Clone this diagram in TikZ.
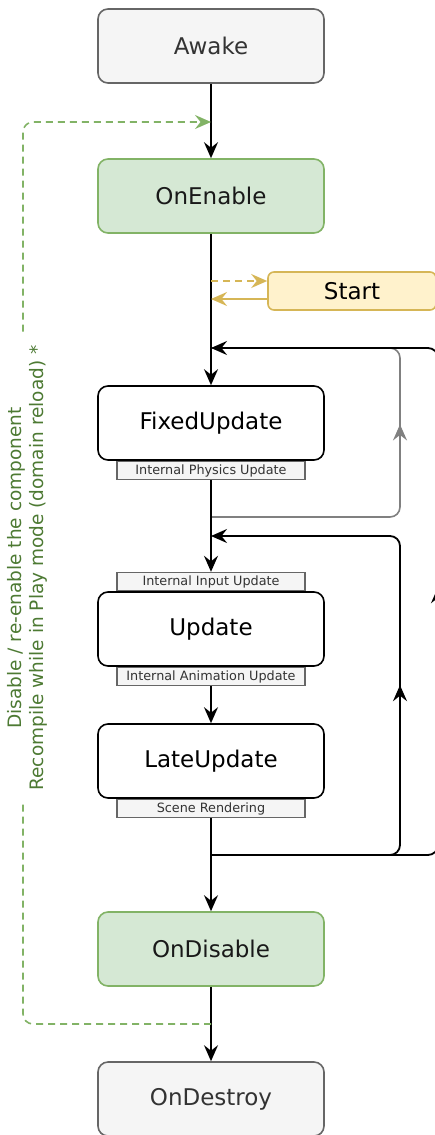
\documentclass[tikz,border=0pt]{standalone}
\usepackage{fontspec}
\setmainfont{DejaVu Sans}
\usetikzlibrary{positioning,arrows.meta,decorations.markings}

\definecolor{idlefill}{HTML}{F5F5F5}
\definecolor{idledraw}{HTML}{666666}
\definecolor{idletext}{HTML}{333333}
\definecolor{togglefill}{HTML}{D5E8D4}
\definecolor{toggledraw}{HTML}{82B366}
\definecolor{toggletext}{HTML}{4D7A33}
\definecolor{startfill}{HTML}{FFF2CC}
\definecolor{startdraw}{HTML}{D6B656}
\definecolor{physdraw}{HTML}{808080}

\begin{document}
\begin{tikzpicture}[x=1pt,y=-1pt,
    >={Stealth[length=16pt,width=14pt,inset=5.5pt]},
    phase/.style={draw,rounded corners=10pt,line width=1.6pt,minimum width=226pt,
      minimum height=74pt,inner sep=0pt,font=\fontsize{23}{27}\selectfont},
    idle/.style={phase,fill=idlefill,draw=idledraw,text=idletext},
    toggle/.style={phase,fill=togglefill,draw=toggledraw,text=black!90},
    frame/.style={phase,fill=white,draw=black},
    internal/.style={draw=idledraw,fill=idlefill,line width=1.4pt,minimum width=188pt,
      minimum height=18pt,inner sep=0pt,text=idletext,font=\fontsize{12.8}{14}\selectfont},
    flow/.style={->,line width=1.8pt},
    midarrow/.style={postaction={decorate},decoration={markings,
      mark=at position 0.515 with {\arrow{Stealth[length=16pt,width=14pt,inset=5.5pt]}}}}]
  \useasboundingbox (0,0) rectangle (434,1135);

  % lifecycle boxes
  \node[idle] (awake) at (211,46) {Awake};
  \node[toggle] (onenable) at (211,196) {OnEnable};
  \node[phase,fill=startfill,draw=startdraw,rounded corners=6pt,minimum width=168pt,
    minimum height=38pt] (start) at (352,291) {Start};
  \node[frame] (fixed) at (211,423) {FixedUpdate};
  \node[internal,below=0pt of fixed] (physics) {Internal Physics Update};
  \node[frame] (update) at (211,629) {Update};
  \node[internal,above=0pt of update] (input) {Internal Input Update};
  \node[internal,below=0pt of update] (anim) {Internal Animation Update};
  \node[frame] (late) at (211,761) {LateUpdate};
  \node[internal,below=0pt of late] (scene) {Scene Rendering};
  \node[toggle] (ondisable) at (211,949) {OnDisable};
  \node[idle] (ondestroy) at (211,1099) {OnDestroy};

  % points on the main line
  \coordinate (enablein) at (211,122);
  \coordinate (startcall) at (211,281);
  \coordinate (startback) at (211,299);
  \coordinate (fixedin) at (211,348);
  \coordinate (physout) at (211,517);
  \coordinate (updatein) at (211,536);
  \coordinate (lateout) at (211,855);
  \coordinate (disout) at (211,1024);
  \coordinate (physright) at (400,348);
  \coordinate (updright) at (400,536);
  \coordinate (outerright) at (438,348);
  \coordinate (reloadleft) at (23,122);

  % loops
  \draw[midarrow,draw=physdraw,line width=1.6pt,rounded corners=10pt]
    (physout) -| (physright) -- (fixedin);
  \draw[flow,midarrow,rounded corners=10pt] (lateout) -| (outerright) -- (fixedin);
  \draw[flow,midarrow,rounded corners=10pt] (lateout) -| (updright) -- (updatein);

  % main flow
  \draw[flow] (awake) -- (onenable);
  \draw[flow] (onenable) -- (fixed);
  \draw[flow] (physics) -- (input);
  \draw[flow] (anim) -- (late);
  \draw[flow] (scene) -- (ondisable);
  \draw[flow] (ondisable) -- (ondestroy);

  % start call
  \draw[->,draw=startdraw,line width=1.6pt,dash pattern=on 7pt off 5pt]
    (startcall) -- (startcall -| start.west);
  \draw[->,draw=startdraw,line width=1.6pt] (startback -| start.west) -- (startback);

  % disable / re-enable
  \draw[->,draw=toggledraw,line width=1.6pt,dash pattern=on 7pt off 5pt,rounded corners=10pt]
    (disout) -| (reloadleft) -- (enablein);
  \node[fill=white,rotate=90,align=center,text=toggletext,inner xsep=12pt,inner ysep=3pt,
    font=\fontsize{18.5}{22}\selectfont] (reload) at (27,568)
    {Disable / re-enable the component\\Recompile while in Play mode (domain reload) *};
\end{tikzpicture}
\end{document}
